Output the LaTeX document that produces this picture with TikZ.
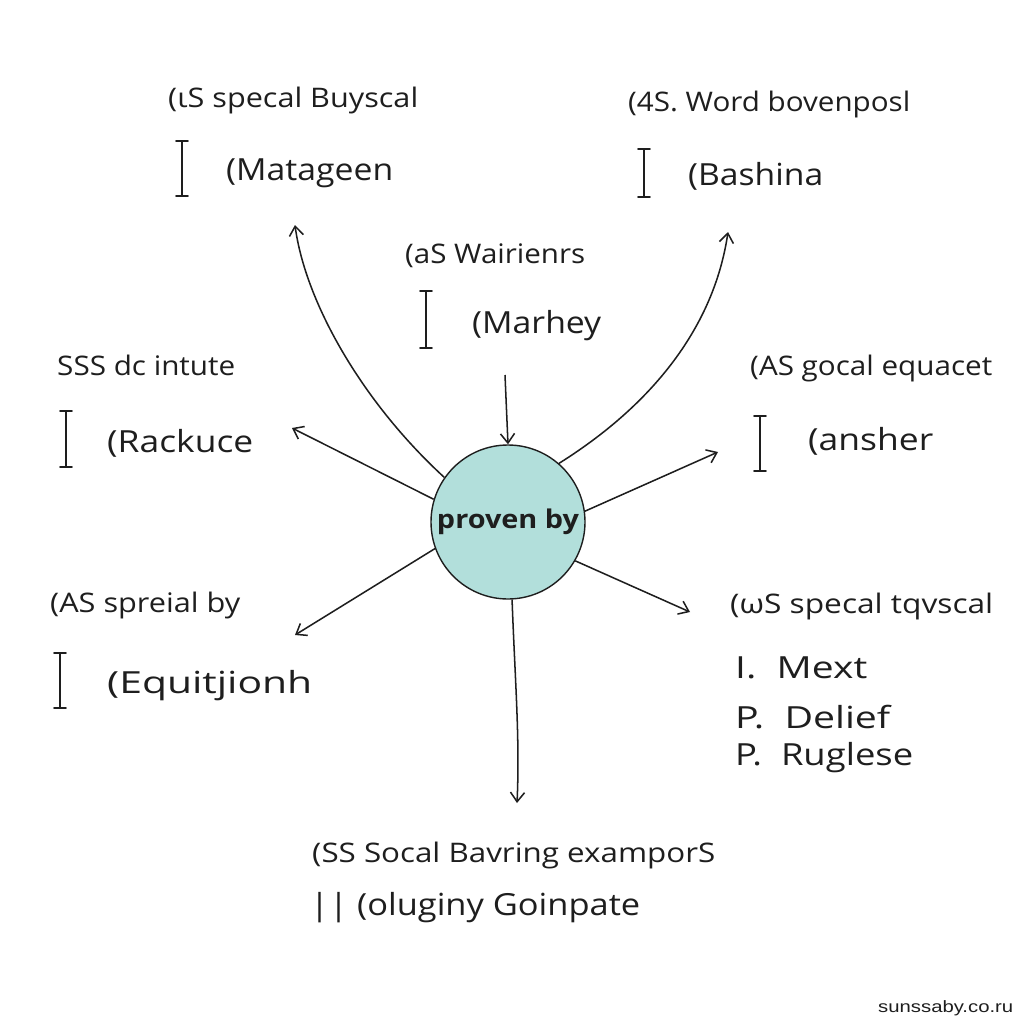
\documentclass[tikz,border=0pt]{standalone}
\usepackage{fontspec}
\setmainfont{Open Sans}
\newfontfamily\wmfont{Liberation Sans}
\usetikzlibrary{arrows.meta}
\newlength\pxl
\setlength\pxl{0.03cm}
\newcommand\fitw[2]{\resizebox{#1\pxl}{\height}{#2}}
\definecolor{ink}{HTML}{1E1E1E}
\definecolor{teal}{HTML}{B2DFDB}
\tikzset{
  head/.style={anchor=base west, inner sep=0pt, text=ink, font=\fontsize{23}{27}\selectfont},
  item/.style={anchor=base west, inner sep=0pt, text=ink, font=\fontsize{26}{30}\selectfont},
  arr/.style={draw=ink, line width=1.3pt, -{Straight Barb[length=8pt,width=12pt,line width=1.3pt]}},
  ibar/.style={draw=ink, line width=1.6pt, line cap=round},
  hub/.style={circle, draw=ink, line width=1.2pt, fill=teal, minimum size=154\pxl, inner sep=0pt, text=ink, font=\fontsize{22}{26}\selectfont\bfseries}
}
\newcommand\barI[3]{\draw[ibar] (#1-6,#2)--(#1+6,#2) (#1,#2)--(#1,#3) (#1-6,#3)--(#1+6,#3);}
\begin{document}
\begin{tikzpicture}[x=0.03cm,y=-0.03cm]
\useasboundingbox (0,0) rectangle (1024,1024);
\fill[white] (0,0) rectangle (1024,1024);

% hub
\node[hub] (c) at (508,522) {\fitw{142}{proven by}};

% labels
\node[head] (h1) at (168,107) {\fitw{250}{(ιS specal Buyscal}};
\node[item] (i1) at (226,180) {\fitw{167}{(Matageen}};
\barI{182}{141}{196}

\node[head] (h2) at (628,111) {\fitw{282}{(4S. Word bovenposl}};
\node[item] (i2) at (688,185) {\fitw{135}{(Bashina}};
\barI{644}{149}{197}

\node[head] (h3) at (405,263) {\fitw{180}{(aS Wairienrs}};
\node[item] (i3) at (472,333) {\fitw{129}{(Marhey}};
\barI{426}{291}{348}

\node[head] (h4) at (57,375) {\fitw{178}{SSS dc intute}};
\node[item] (i4) at (107,452) {\fitw{146}{(Rackuce}};
\barI{66}{411}{467}

\node[head] (h5) at (750,375) {\fitw{242}{(AS gocal equacet}};
\node[item] (i5) at (808,450) {\fitw{125}{(ansher}};
\barI{760}{416}{471}

\node[head] (h6) at (50,612) {\fitw{190}{(AS spreial by}};
\node[item] (i6) at (107,693) {\fitw{205}{(Equitjionh}};
\barI{60}{653}{708}

\node[head] (h7) at (730,613) {\fitw{263}{(ωS specal tqvscal}};
\node[item] (i7a) at (735,678) {\fitw{132}{I.\ \ Mext}};
\node[item] (i7b) at (735,728) {\fitw{155}{P.\ \ Delief}};
\node[item] (i7c) at (735,765) {\fitw{178}{P.\ \ Ruglese}};

\node[head] (h8) at (312,862) {\fitw{403}{(SS Socal Bavring examporS}};
\node[item] (i8) at (310,915) {\fitw{330}{|| (oluginy Goinpate}};

\node[anchor=base west, inner sep=0pt, text=ink, font=\wmfont\fontsize{14}{16}\selectfont] (wm) at (878,1012) {\fitw{135}{sunssaby.co.ru}};

% arrow ends
\coordinate (t1) at (295,225);
\coordinate (t2) at (728,232);
\coordinate (s3) at (505,375);
\coordinate (t4) at (292,428);
\coordinate (t5) at (718,452);
\coordinate (t6) at (295,635);
\coordinate (t7) at (690,612);
\coordinate (t8) at (517,803);

% connectors
\draw[arr] (c.145) .. controls (360,400) and (305,300) .. (t1);
\draw[arr] (c.49) .. controls (660,400) and (715,320) .. (t2);
\draw[arr] (s3) -- (c.north);
\draw[arr] (c.163) -- (t4);
\draw[arr] (c.8) -- (t5);
\draw[arr] (c.200) -- (t6);
\draw[arr] (c.330) -- (t7);
\draw[arr] (c.273) .. controls (515,680) and (520,740) .. (t8);
\end{tikzpicture}
\end{document}
